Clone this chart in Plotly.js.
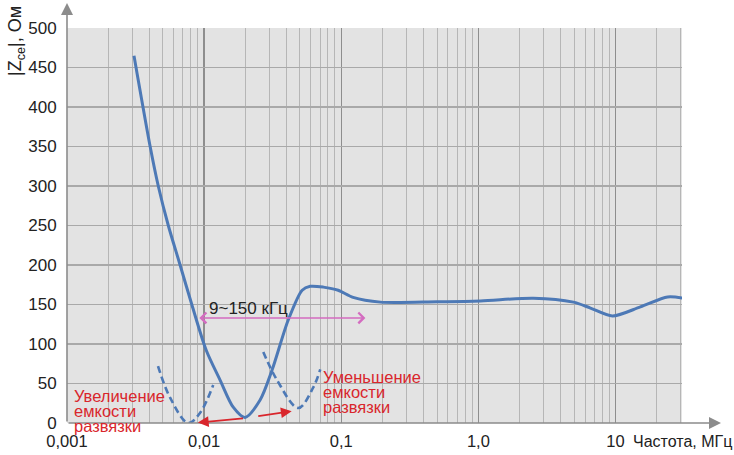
<!DOCTYPE html>
<html>
<head>
<meta charset="utf-8">
<script src="https://cdn.plot.ly/plotly-3.0.1.min.js"></script>
<style>
  html, body { margin: 0; padding: 0; background: #ffffff; }
  #chart { width: 734px; height: 455px; }
</style>
</head>
<body>
<div id="chart"></div>
<script>
// ---- data ----
const mainFreq = [0.00308, 0.00404, 0.00463, 0.00548, 0.00668, 0.00813, 0.01036, 0.0131, 0.0163, 0.0199, 0.0256, 0.0313, 0.041, 0.0519, 0.0594, 0.074, 0.095, 0.122, 0.193, 0.5, 1.035, 2.52, 4.93, 6.57, 9.5, 15.2, 24, 30.8];
const mainZ    = [465, 350, 300, 250, 200, 150, 92, 54, 20, 7, 29, 67, 130, 168, 173, 172, 168, 159, 153, 153.5, 154.5, 158, 153, 145.5, 135.5, 147, 159.5, 158];

const leftDashFreq = [0.00461, 0.00565, 0.00764, 0.00935, 0.01165];
const leftDashZ    = [72, 32, 0, 13, 48];

const rightDashFreq = [0.027, 0.0341, 0.0486, 0.0625, 0.0703];
const rightDashZ    = [90, 54, 19, 45, 68];

const xTickVals  = [0.001, 0.01, 0.1, 1, 10];
const xTickText  = ["0,001", "0,01", "0,1", "1,0", "10"];
const yTickVals  = [0, 50, 100, 150, 200, 250, 300, 350, 400, 450, 500];

const bandStart = 0.009, bandEnd = 0.15, bandZ = 133;
const bandLabel = "9~150 кГц";
const leftLabel  = ["Увеличение", "емкости", "развязки"];
const rightLabel = ["Уменьшение", "емкости", "развязки"];
const xAxisLabel = "Частота, МГц";
const yAxisLabel = "|Z<sub>ce</sub>|, Ом";

// red arrows (tail -> tip)
const redArrows = [
  {from: [0.0197, 6], to: [0.0090, 0.5]},
  {from: [0.0242, 8.5], to: [0.0435, 15]}
];

// ---- layout helpers ----
const L = 67, R = 52, T = 28, B = 32, W = 734, H = 455;
const pw = W - L - R, ph = H - T - B;
const px = v => (v - L) / pw;          // pixel x -> paper
const py = v => (H - B - v) / ph;      // pixel y -> paper

const blue = "#4d79b6";
const red = "#d9262c";
const pink = "#d46cc0";
const font = "Liberation Sans, Arial, sans-serif";

const traces = [
  {x: mainFreq, y: mainZ, mode: "lines", type: "scatter",
   line: {color: blue, width: 3, shape: "spline", smoothing: 0.8}, hoverinfo: "skip"},
  {x: leftDashFreq, y: leftDashZ, mode: "lines", type: "scatter",
   line: {color: blue, width: 2.6, dash: "7px,4px", shape: "spline", smoothing: 1}, hoverinfo: "skip"},
  {x: rightDashFreq, y: rightDashZ, mode: "lines", type: "scatter",
   line: {color: blue, width: 2.6, dash: "7px,4px", shape: "spline", smoothing: 1}, hoverinfo: "skip"}
];

const annotations = [];

// axis arrows
annotations.push({xref: "paper", yref: "paper", x: 0, y: py(3), ax: 0, ay: 420, axref: "pixel", ayref: "pixel",
  showarrow: true, arrowhead: 2, arrowsize: 1.5, arrowwidth: 1.6, arrowcolor: "#8c8c8c", text: ""});
annotations.push({xref: "paper", yref: "paper", x: px(721), y: 0, ax: -(721 - L), ay: 0,
  showarrow: true, arrowhead: 2, arrowsize: 1.5, arrowwidth: 1.6, arrowcolor: "#8c8c8c", text: ""});

// band arrow (double headed)
annotations.push({xref: "x", yref: "y", axref: "x", ayref: "y",
  x: Math.log10(bandEnd), y: bandZ, ax: Math.log10(bandStart), ay: bandZ,
  showarrow: true, arrowhead: 4, startarrowhead: 4, arrowside: "end+start",
  arrowsize: 1.3, startarrowsize: 1.3, arrowwidth: 1.6, arrowcolor: pink, text: ""});
annotations.push({xref: "paper", yref: "paper", x: px(248), y: py(308), text: bandLabel,
  xanchor: "center", yanchor: "middle",
  showarrow: false, font: {family: font, size: 17, color: "#222"}});

// red arrows
redArrows.forEach(a => annotations.push({xref: "x", yref: "y", axref: "x", ayref: "y",
  x: Math.log10(a.to[0]), y: a.to[1], ax: Math.log10(a.from[0]), ay: a.from[1],
  showarrow: true, arrowhead: 2, arrowsize: 1.2, arrowwidth: 1.8, arrowcolor: red, text: ""}));

// red labels, one line each (tight leading as in reference)
const leftY = [396, 411, 426], rightY = [377, 392, 407];
leftLabel.forEach((t, i) => annotations.push({xref: "paper", yref: "paper", x: px(72), y: py(leftY[i]),
  xanchor: "left", yanchor: "middle", text: t, showarrow: false, font: {family: font, size: 16.5, color: red}}));
rightLabel.forEach((t, i) => annotations.push({xref: "paper", yref: "paper", x: px(321), y: py(rightY[i]),
  xanchor: "left", yanchor: "middle", text: t, showarrow: false, font: {family: font, size: 16.5, color: red}}));

// axis titles
annotations.push({xref: "paper", yref: "paper", x: px(631), y: py(441), xanchor: "left", yanchor: "middle",
  text: xAxisLabel, showarrow: false, font: {family: font, size: 16, color: "#222"}});
annotations.push({xref: "paper", yref: "paper", x: px(17), y: py(41), xanchor: "center", yanchor: "middle",
  textangle: -90, text: yAxisLabel, showarrow: false, font: {family: font, size: 18, color: "#222"}});

const layout = {
  width: W, height: H,
  margin: {l: L, r: R, t: T, b: B, pad: 0},
  paper_bgcolor: "#ffffff",
  plot_bgcolor: "#e3e3e3",
  showlegend: false,
  xaxis: {
    type: "log", range: [-3, 1.485],
    tickvals: xTickVals, ticktext: xTickText,
    showgrid: true, gridcolor: "#8e8e8e", gridwidth: 1.3,
    minor: {dtick: "D1", showgrid: true, gridcolor: "#b6b6b6", gridwidth: 1},
    showline: false, zeroline: false,
    ticks: "outside", ticklen: 3, tickcolor: "rgba(0,0,0,0)",
    tickfont: {family: font, size: 16.5, color: "#222"}
  },
  yaxis: {
    range: [0, 500], tickvals: yTickVals,
    showgrid: true, gridcolor: "#a9a9a9", gridwidth: 1.3,
    showline: false, zeroline: false,
    ticks: "outside", ticklen: 6, tickcolor: "rgba(0,0,0,0)",
    tickfont: {family: font, size: 17, color: "#222"}
  },
  annotations: annotations
};

Plotly.newPlot("chart", traces, layout, {displayModeBar: false, staticPlot: true});
</script>
</body>
</html>
